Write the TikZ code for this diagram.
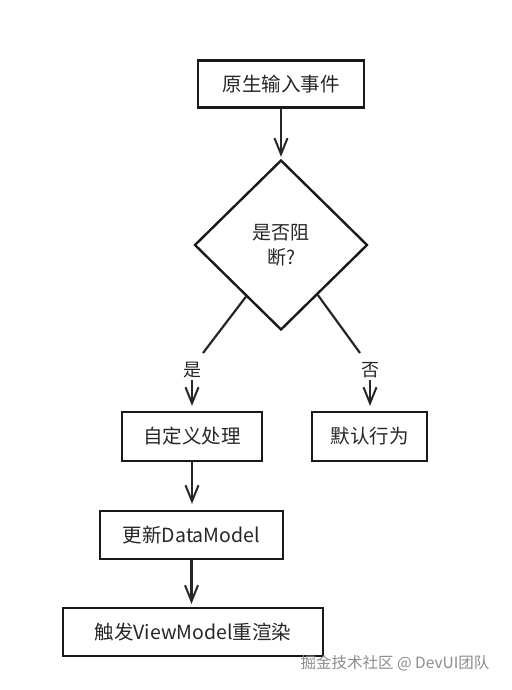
\documentclass[tikz,border=0pt]{standalone}
\usepackage{fontspec}
\newfontfamily\cjk{Noto Sans CJK SC}
\usetikzlibrary{arrows.meta,shapes.geometric,calc}
\begin{document}
\begin{tikzpicture}[x=1pt,y=-1pt,
  box/.style={draw=black!90,line width=2.2pt,rectangle,inner sep=0pt,font=\cjk\fontsize{19.5}{22}\selectfont,text=black!85},
  dec/.style={draw=black!90,line width=2.4pt,diamond,inner sep=0pt,minimum width=173pt,minimum height=170pt,align=center,font=\cjk\fontsize{19}{25}\selectfont,text=black!85},
  lbl/.style={font=\cjk\fontsize{18}{20}\selectfont,text=black!85,inner sep=2pt},
  conn/.style={line width=2.2pt,draw=black!85},
  arr/.style={conn,-{Straight Barb[length=16pt,width=13pt,line width=2pt]}}]
\useasboundingbox (0,0) rectangle (511,690);
\node[box,minimum width=166pt,minimum height=47pt] (b1) at (281,84) {原生输入事件};
\node[dec] (d) at (281,245) {是否阻\\断?};
\node[box,minimum width=140pt,minimum height=49pt] (b2) at (192,436.5) {自定义处理};
\node[box,minimum width=115pt,minimum height=49pt] (b3) at (369.5,436.5) {默认行为};
\node[box,minimum width=183pt,minimum height=48pt] (b4) at (191.5,535) {更新DataModel};
\node[box,minimum width=260pt,minimum height=48pt] (b5) at (193,632) {触发ViewModel重渲染};
\node[lbl] (yes) at (192,370) {是};
\node[lbl] (no) at (370,370) {否};
\coordinate (ys) at ($(d.west)!0.6!(d.south)$);
\coordinate (ns) at ($(d.east)!0.58!(d.south)$);
\coordinate (ye) at (203,353);
\coordinate (ne) at (360,353);
\coordinate (t1) at ($(d.north)+(0,-2)$);
\coordinate (t2) at ($(yes.south |- b2.north)+(0,-5)$);
\coordinate (t3) at ($(no.south |- b3.north)+(0,-5)$);
\coordinate (t4) at ($(b2.south |- b4.north)+(0,-6)$);
\coordinate (t5) at ($(b4.south |- b5.north)+(0,-3)$);
\draw[arr] (b1.south) -- (t1);
\draw[conn] (ys) -- (ye);
\draw[conn] (ns) -- (ne);
\draw[arr] (yes.south) -- (t2);
\draw[arr] (no.south) -- (t3);
\draw[arr] (b2.south) -- (t4);
\draw[arr] (b4.south) -- (t5);
\node[font=\cjk\fontsize{15.5}{18}\selectfont,text=black!45] (wm) at (395,663) {掘金技术社区 @ DevUI团队};
\end{tikzpicture}
\end{document}
